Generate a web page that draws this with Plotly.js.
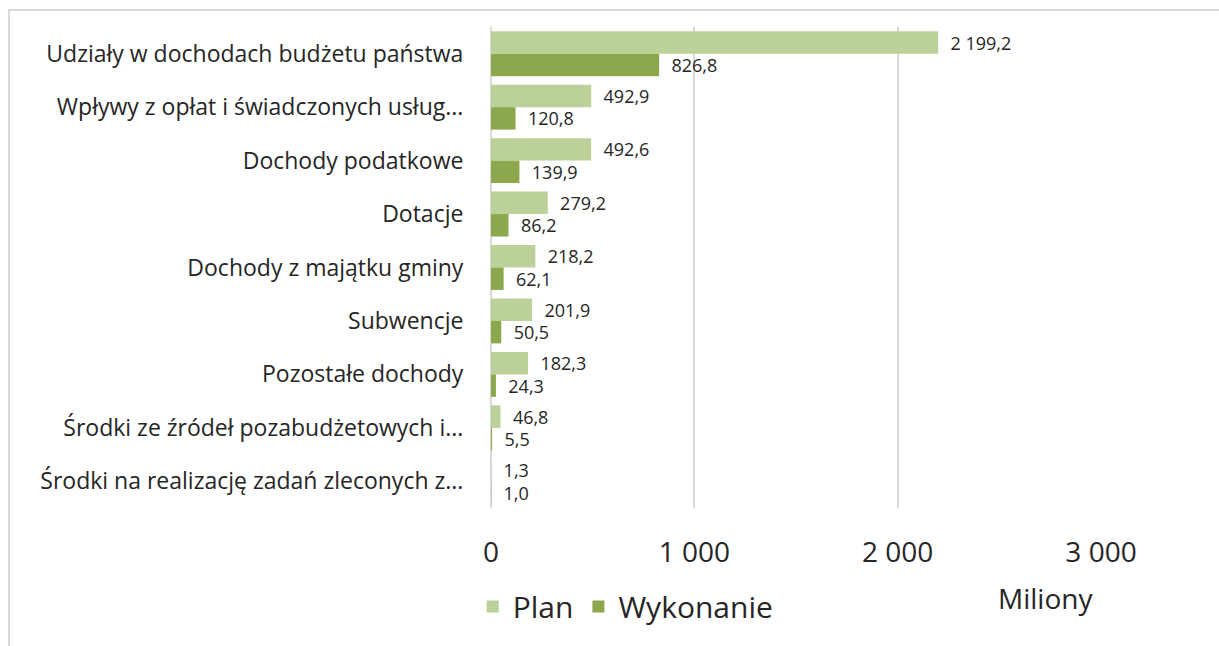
<!DOCTYPE html>
<html>
<head>
<meta charset="utf-8">
<script src="https://cdn.plot.ly/plotly-3.0.1.min.js"></script>
<style>
  html, body { margin: 0; padding: 0; background: #fff; }
  #chart { width: 1219px; height: 646px; }
</style>
</head>
<body>
<div id="chart"></div>
<script>
// categories, top to bottom as in the picture
var categories = [
  "Udziały w dochodach budżetu państwa",
  "Wpływy z opłat i świadczonych usług...",
  "Dochody podatkowe",
  "Dotacje",
  "Dochody z majątku gminy",
  "Subwencje",
  "Pozostałe dochody",
  "Środki ze źródeł pozabudżetowych i...",
  "Środki na realizację zadań zleconych z..."
];
var plan = [2199.2, 492.9, 492.6, 279.2, 218.2, 201.9, 182.3, 46.8, 1.3];
var wykonanie = [826.8, 120.8, 139.9, 86.2, 62.1, 50.5, 24.3, 5.5, 1.0];
var xTicks = [0, 1000, 2000, 3000];

var font = "'Open Sans', sans-serif";
var ink = "#262626";

// label sits a bit away from the bar end, like in Excel
var labelTpl = "\u00a0\u00a0%{x:,.1f}";

// plan drawn first so it sits above wykonanie in each pair
var tracePlan = {
  type: "bar",
  orientation: "h",
  name: "Plan",
  y: categories,
  x: plan,
  marker: { color: "#bcd09a" },
  texttemplate: labelTpl,
  textposition: "outside",
  constraintext: "none",
  cliponaxis: false,
  textfont: { family: font, size: 18, color: ink }
};
var traceWyk = {
  type: "bar",
  orientation: "h",
  name: "Wykonanie",
  y: categories,
  x: wykonanie,
  marker: { color: "#8da84c" },
  texttemplate: labelTpl,
  textposition: "outside",
  constraintext: "none",
  cliponaxis: false,
  textfont: { family: font, size: 18, color: ink }
};

var layout = {
  width: 1219,
  height: 646,
  separators: ", ",
  margin: { l: 491, r: 118, t: 27, b: 138 },
  paper_bgcolor: "#fff",
  plot_bgcolor: "#fff",
  font: { family: font, color: ink },
  barmode: "group",
  bargap: 0.16,
  showlegend: true,
  legend: {
    orientation: "h",
    x: -0.03,
    xanchor: "left",
    y: -0.205,
    yanchor: "middle",
    font: { family: font, size: 30, color: ink },
    traceorder: "normal"
  },
  xaxis: {
    range: [0, 3000],
    tickvals: xTicks,
    tickformat: ",d",
    showgrid: true,
    gridcolor: "#d9d9d9",
    gridwidth: 2,
    zeroline: true,
    zerolinecolor: "#d9d9d9",
    zerolinewidth: 2,
    showline: false,
    ticks: "outside",
    ticklen: 19,
    tickcolor: "rgba(0,0,0,0)",
    tickfont: { family: font, size: 28, color: ink },
    automargin: false
  },
  yaxis: {
    autorange: "reversed",
    type: "category",
    showgrid: false,
    zeroline: false,
    showline: false,
    ticks: "outside",
    ticklen: 22,
    tickcolor: "rgba(0,0,0,0)",
    tickfont: { family: font, size: 23, color: ink },
    automargin: false
  },
  annotations: [{
    text: "Miliony",
    xref: "paper", yref: "paper",
    x: (1045 - 491) / 610, y: (508 - 598) / 481,
    xanchor: "center", yanchor: "middle",
    showarrow: false,
    font: { family: font, size: 28, color: ink }
  }],
  shapes: [{
    type: "path",
    xref: "paper", yref: "paper",
    path: "M " + ((9 - 491) / 610) + " " + ((508 - 660) / 481) +
          " L " + ((9 - 491) / 610) + " " + ((508 - 10) / 481) +
          " L " + ((1230 - 491) / 610) + " " + ((508 - 10) / 481),
    line: { color: "#d9d9d9", width: 2 }
  }]
};

Plotly.newPlot("chart", [tracePlan, traceWyk], layout, { displayModeBar: false, staticPlot: true });
</script>
</body>
</html>
